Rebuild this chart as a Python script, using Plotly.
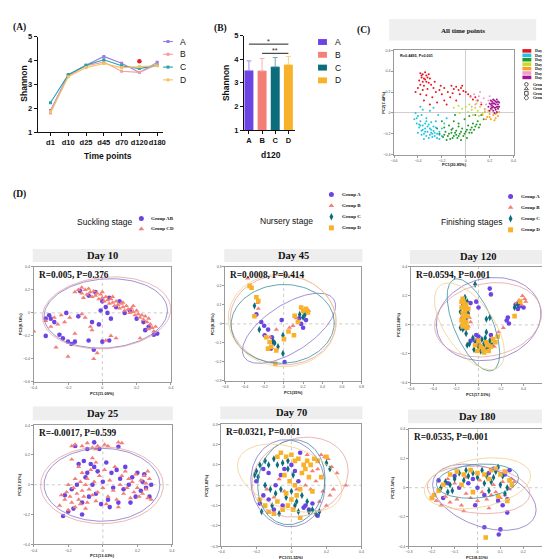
import numpy as np
import plotly.graph_objects as go

W, H = 550, 559

# ------------------------------------------------------------------ data
time_points = ["d1", "d10", "d25", "d45", "d70", "d120", "d180"]
shannon_A = [1.90, 3.40, 3.80, 4.17, 3.88, 3.50, 3.92]
shannon_B = [1.80, 3.35, 3.78, 3.93, 3.55, 3.50, 3.82]
shannon_C = [2.23, 3.40, 3.80, 4.03, 3.78, 3.66, 3.80]
shannon_D = [1.85, 3.32, 3.70, 3.87, 3.70, 3.74, 3.78]
sig_time = ["d120"]
sig_value = [3.97]

groups = ["A", "B", "C", "D"]
d120_mean = [3.52, 3.51, 3.68, 3.77]
d120_sd = [0.41, 0.52, 0.39, 0.35]
sig_from = ["A", "B"]
sig_to = ["D", "D"]
sig_height = [4.64, 4.25]
sig_label = ["*", "**"]

day_names = ["Day 1", "Day 10", "Day 25", "Day 45", "Day 70", "Day 120", "Day 180"]
all_day1 = [(-0.38,0.38),(-0.36,0.37),(-0.34,0.39),(-0.33,0.36),(-0.37,0.34),(-0.35,0.33),(-0.32,0.34),(-0.30,0.33),
            (-0.39,0.31),(-0.36,0.30),(-0.33,0.30),(-0.31,0.29),(-0.38,0.27),(-0.35,0.26),(-0.29,0.27),(-0.40,0.24),
            (-0.36,0.22),(-0.32,0.23),(-0.27,0.24),(-0.25,0.20),(-0.38,0.18),(-0.33,0.17),(-0.28,0.15),(-0.22,0.22),
            (-0.20,0.18),(-0.18,0.24),(-0.15,0.20),(-0.13,0.15),(-0.10,0.23),(-0.08,0.25),(-0.06,0.22),(-0.04,0.24),
            (-0.02,0.21),(0.00,0.20),(0.02,0.18),(0.04,0.16),(0.06,0.13),(-0.24,0.10),(-0.16,0.08),(-0.08,0.12),
            (-0.35,0.12),(-0.30,0.08),(-0.42,0.20),(-0.12,0.26),(-0.26,0.30),(0.10,0.12),(0.13,0.08),(-0.37,0.36),
            (-0.34,0.32),(-0.31,0.37),(-0.05,0.18),(-0.18,0.12),(0.08,0.15),(-0.21,0.26),(-0.11,0.19),(-0.03,0.26)]
all_day10 = [(-0.42,0.00),(-0.40,-0.03),(-0.43,-0.06),(-0.38,-0.08),(-0.41,-0.10),(-0.36,-0.12),(-0.39,-0.14),(-0.34,-0.15),
             (-0.37,-0.17),(-0.32,-0.18),(-0.35,-0.20),(-0.30,-0.21),(-0.28,-0.23),(-0.33,-0.22),(-0.26,-0.19),(-0.24,-0.24),
             (-0.29,-0.16),(-0.31,-0.11),(-0.27,-0.13),(-0.22,-0.18),(-0.20,-0.22),(-0.25,-0.08),(-0.33,-0.05),(-0.36,0.03),
             (-0.30,0.02),(-0.23,-0.02),(-0.18,-0.10),(-0.20,-0.15),(-0.38,0.06),(-0.27,0.05),(-0.40,-0.19),(-0.35,-0.25),
             (-0.22,-0.25),(-0.16,-0.05),(-0.34,-0.10),(-0.29,-0.19),(-0.37,-0.02),(-0.25,-0.14),(-0.31,-0.24),
             (-0.41,-0.05),(-0.39,-0.11),(-0.37,-0.21),(-0.34,-0.18),(-0.32,-0.13),(-0.30,-0.15),(-0.28,-0.20),
             (-0.26,-0.22),(-0.24,-0.20),(-0.22,-0.21),(-0.33,-0.08),(-0.36,-0.16),(-0.38,-0.12),(-0.29,-0.09),
             (-0.27,-0.17)]
all_day25 = [(-0.22,-0.20),(-0.19,-0.23),(-0.17,-0.18),(-0.15,-0.22),(-0.13,-0.25),(-0.12,-0.19),(-0.10,-0.22),(-0.08,-0.17),
             (-0.07,-0.24),(-0.05,-0.20),(-0.03,-0.15),(-0.02,-0.22),(0.00,-0.18),(0.02,-0.12),(0.04,-0.16),(0.06,-0.10),
             (0.08,-0.13),(0.10,-0.08),(0.12,-0.11),(0.15,-0.06),(-0.14,-0.12),(-0.10,-0.08),(-0.06,-0.10),(-0.01,-0.06),
             (0.03,-0.03),(-0.18,-0.14),(-0.24,-0.15),(-0.20,-0.08),(-0.09,-0.02),(0.08,-0.02),(0.13,-0.02),(-0.16,-0.26),
             (-0.04,-0.26),(0.01,-0.24),(-0.11,-0.15),(-0.06,-0.13),(0.05,-0.19),(-0.18,-0.21),(-0.14,-0.20),
             (-0.11,-0.24),(-0.09,-0.19),(-0.06,-0.22),(-0.04,-0.18),(-0.01,-0.20),(0.01,-0.16),(0.03,-0.19),
             (0.05,-0.14),(0.07,-0.16),(0.09,-0.11),(0.11,-0.14),(-0.12,-0.16),(-0.08,-0.21)]
all_day45 = [(-0.10,0.05),(-0.06,0.07),(-0.03,0.04),(0.00,0.06),(0.03,0.08),(0.05,0.03),(0.08,0.05),(0.10,0.02),
             (0.12,0.06),(0.14,0.00),(0.16,0.03),(0.06,-0.02),(0.02,0.01),(-0.05,0.00),(0.09,0.09),(0.11,-0.03)]
all_day70 = [(0.14,-0.02),(0.16,0.01),(0.18,-0.04),(0.20,-0.01),(0.21,-0.06),(0.23,-0.02),(0.25,-0.05),(0.26,0.00),
             (0.27,-0.03),(0.19,0.02),(0.22,0.03),(0.24,-0.07),(0.28,0.01),(0.17,-0.06),(0.20,-0.04),(0.25,-0.01)]
all_day120 = [(0.04,0.15),(0.07,0.18),(0.09,0.12),(0.11,0.16),(0.13,0.10),(0.15,0.14),(0.17,0.08),(0.19,0.12),
              (0.21,0.06),(0.12,0.20),(0.08,0.08),(0.16,0.04),(0.20,0.16),(0.23,0.10),(0.05,0.06)]
all_day180 = [(0.19,0.06),(0.20,0.09),(0.21,0.04),(0.22,0.11),(0.22,0.07),(0.23,0.02),(0.23,0.09),(0.24,0.05),
              (0.24,0.12),(0.25,0.08),(0.25,0.03),(0.26,0.06),(0.26,0.10),(0.27,0.04),(0.27,0.08),(0.28,0.06),
              (0.20,0.02),(0.21,0.12),(0.24,0.00),(0.26,0.01),(0.28,0.10),(0.22,0.05),(0.25,0.11),(0.23,0.13),
              (0.27,0.11),(0.21,0.08),(0.26,0.13),(0.23,0.06),(0.25,0.05),(0.24,0.09),(0.22,0.09),(0.27,0.06)]

# Day 10 (suckling)
d10_AB = [(-0.13,0.19),(-0.08,0.15),(-0.04,0.18),(0.00,0.10),(0.02,0.05),(0.04,0.13),(0.08,0.05),(0.10,0.10),(0.13,0.00),
          (0.16,0.02),(0.20,-0.05),(0.24,-0.08),(0.27,-0.12),(0.30,-0.19),(0.32,-0.18),(0.25,-0.15),(-0.01,0.02),(0.03,0.00),
          (0.05,-0.05),(-0.33,-0.05),(-0.31,-0.02),(-0.33,-0.20),(-0.30,-0.05),(-0.28,-0.08),(-0.25,-0.19),(-0.23,-0.22),
          (-0.20,-0.25),(-0.18,-0.27),(-0.16,-0.25),(-0.21,0.00),(-0.14,-0.03),(-0.06,-0.08),(-0.02,-0.10),(-0.08,-0.24),
          (0.00,-0.25),(0.04,-0.24),(-0.05,-0.32)]
d10_CD = [(-0.14,0.20),(-0.12,0.22),(-0.12,0.17),(-0.10,0.20),(-0.09,0.16),(-0.08,0.21),(-0.07,0.18),(-0.06,0.14),(-0.05,0.19),
          (-0.04,0.15),(-0.03,0.17),(-0.02,0.12),(-0.01,0.16),(0.00,0.13),(0.01,0.10),(0.02,0.14),(0.03,0.11),(0.04,0.08),
          (0.05,0.12),(0.06,0.09),(0.07,0.06),(0.08,0.10),(0.09,0.07),(0.10,0.04),(0.11,0.08),(0.12,0.05),(0.13,0.02),
          (0.14,0.06),(0.15,0.03),(0.16,0.00),(0.17,0.04),(0.18,0.01),(0.19,-0.02),(0.20,0.02),(0.21,-0.01),(0.22,-0.04),
          (0.23,-0.02),(0.24,-0.06),(0.25,-0.03),(0.26,-0.08),(0.27,-0.05),(0.28,-0.10),(0.29,-0.13),(0.30,-0.16),
          (0.31,-0.12),(0.27,-0.14),(-0.16,0.18),(-0.11,0.13),(0.00,0.18),(0.06,0.14),(0.12,0.09),(0.18,0.06),
          (-0.40,-0.16),(-0.33,-0.07),(-0.30,-0.12),(-0.28,-0.04),(-0.26,-0.10),(-0.24,-0.02),(-0.22,-0.08),(-0.27,-0.30),
          (-0.16,-0.18),(-0.12,-0.01),(-0.10,-0.04),(-0.07,-0.12),(-0.06,-0.15),(-0.03,-0.35),(-0.05,-0.40),(0.02,-0.24),
          (0.05,-0.20),(0.08,-0.22),(-0.19,-0.04),(0.22,-0.22),(-0.20,-0.38)]

# Day 25 (suckling)
d25_AB = [(-0.16,0.26),(-0.09,0.24),(-0.05,0.285),(-0.02,0.24),(0.09,0.255),(-0.23,-0.21),(-0.20,-0.18),(-0.22,-0.07),
          (-0.17,-0.16),(-0.15,0.00),(-0.14,0.14),(-0.12,-0.12),(-0.11,0.16),(-0.10,0.05),(-0.08,-0.08),(-0.07,0.14),
          (-0.06,0.00),(-0.05,0.12),(-0.04,-0.06),(-0.03,0.09),(-0.01,-0.13),(0.00,0.02),(0.02,0.15),(0.03,-0.10),
          (0.05,0.08),(0.06,-0.02),(0.08,0.10),(0.09,-0.12),(0.10,0.04),(0.12,-0.03),(0.13,0.12),(0.15,0.00),
          (0.17,0.05),(0.19,-0.08),(0.20,0.08),(0.22,-0.04),(0.23,0.02),(0.25,-0.02),(0.27,-0.08),(0.28,0.00),
          (0.24,0.07),(0.16,-0.12),(-0.18,-0.03),(-0.09,0.08),(0.04,-0.15),(-0.12,-0.20)]
d25_CD = [(-0.18,0.26),(-0.16,0.27),(-0.12,0.26),(-0.09,0.28),(-0.06,0.25),(-0.04,0.24),(-0.03,0.26),(0.01,0.27),
          (0.03,0.26),(0.09,0.285),(0.11,0.28),(-0.25,-0.14),(-0.22,-0.10),(-0.21,-0.05),(-0.20,0.00),(-0.19,-0.08),
          (-0.18,-0.12),(-0.17,-0.02),(-0.16,0.04),(-0.15,-0.06),(-0.14,-0.10),(-0.13,0.02),(-0.12,-0.04),(-0.12,0.08),
          (-0.11,-0.08),(-0.10,0.00),(-0.09,-0.12),(-0.09,0.04),(-0.08,-0.03),(-0.07,0.10),(-0.06,-0.07),(-0.05,0.02),
          (-0.04,0.15),(-0.03,-0.05),(-0.02,0.06),(0.00,-0.02),(0.01,0.10),(0.03,-0.08),(0.04,0.03),(0.06,-0.04),
          (0.07,0.12),(0.08,-0.10),(0.10,0.00),(0.11,0.06),(0.12,-0.06),(0.13,0.09),(0.14,-0.02),(0.15,0.04),
          (0.16,-0.09),(0.17,0.02),(0.18,-0.05),(0.19,0.07),(0.20,-0.02),(0.21,-0.08),(0.22,0.03),(0.23,-0.06),
          (0.24,0.06),(0.25,-0.03),(0.25,0.01),(0.26,-0.09),(0.27,0.04),(0.28,-0.10),(0.26,0.09),(-0.18,0.17),
          (-0.14,0.12),(-0.06,0.18),(-0.24,-0.07),(-0.16,-0.15),(-0.10,-0.16),(-0.04,-0.11),(0.02,-0.13),(0.09,-0.15),
          (-0.20,-0.17),(-0.13,-0.13)]

# Day 45 (nursery)
d45_A = [(-0.28,0.05),(-0.23,0.01),(-0.20,-0.01),(-0.16,-0.03),(-0.195,-0.06),(-0.12,-0.07),(-0.13,-0.13),(-0.02,0.02),
         (0.01,-0.20),(0.18,0.00),(0.23,0.02),(0.20,-0.02),(0.16,0.03),(-0.10,-0.10)]
d45_B = [(-0.37,0.24),(-0.26,0.08),(-0.14,-0.07),(-0.075,-0.03),(0.06,-0.02),(0.216,0.06),(0.13,0.03),(0.096,-0.01),
         (0.257,0.07),(-0.27,0.11)]
d45_C = [(-0.30,0.095),(-0.25,-0.03),(-0.093,-0.10),(-0.058,-0.12),(-0.007,-0.155),(-0.007,-0.06),(0.165,0.05),
         (0.20,0.035),(0.22,0.05),(-0.11,-0.09)]
d45_D = [(-0.35,0.20),(-0.33,0.19),(-0.28,0.14),(-0.26,0.12),(-0.30,0.04),(-0.18,-0.07),(-0.144,-0.095),(-0.127,-0.12),
         (-0.075,-0.14),(-0.16,-0.13),(-0.086,-0.21),(0.003,-0.08),(0.05,-0.04),(0.106,-0.06),(0.18,0.086),(0.20,0.07),
         (0.25,0.06),(0.113,0.043),(0.147,0.01),(0.23,0.08)]

# Day 120 (finishing)
d120_A = [(-0.11,0.09),(-0.07,0.15),(0.00,-0.08),(-0.03,-0.11),(0.11,-0.07),(0.37,0.13),(0.35,0.11),(0.40,0.12),
          (0.26,0.05),(0.25,0.03),(0.27,0.01),(0.33,0.14),(-0.02,0.16),(0.00,0.12),(0.10,0.25),(0.11,0.21),(-0.02,-0.07),
          (-0.07,-0.11)]
d120_B = [(-0.13,0.17),(-0.10,0.12),(-0.08,0.05),(-0.12,-0.03),(-0.07,0.02),(-0.15,0.05),(-0.09,-0.01),(-0.02,-0.10),
          (0.01,-0.13),(0.04,-0.14),(0.07,-0.17),(0.10,-0.13),(0.12,-0.09),(0.06,-0.16),(0.14,-0.15),(0.36,0.17),
          (0.39,0.20),(0.41,0.18),(0.42,0.16),(0.34,0.15),(0.38,0.14),(0.22,-0.02),(0.18,-0.05),(0.11,-0.10)]
d120_C = [(-0.12,0.19),(-0.10,0.16),(-0.14,0.14),(-0.09,0.08),(-0.16,0.09),(-0.11,0.04),(-0.14,-0.03),(-0.16,-0.02),
          (-0.05,-0.09),(-0.02,-0.12),(0.00,-0.15),(0.03,-0.10),(0.05,-0.13),(0.08,-0.16),(0.10,-0.11),(0.12,-0.14),
          (-0.04,-0.17),(0.02,-0.18),(0.06,-0.09),(-0.08,-0.13),(-0.10,-0.14),(0.35,0.14),(0.32,0.12),(-0.03,0.28),
          (0.07,0.04),(0.10,0.05),(-0.11,-0.06),(0.07,-0.05)]
d120_D = [(-0.14,0.18),(-0.13,0.15),(-0.15,0.12),(-0.12,0.10),(-0.14,0.08),(-0.13,0.05),(-0.15,0.03),(-0.12,0.01),
          (-0.14,-0.01),(-0.11,0.14),(-0.10,0.06),(-0.13,0.12),(-0.11,0.02),(-0.15,0.16),(-0.12,0.07),(-0.09,0.11),
          (-0.14,0.00),(-0.10,-0.02),(-0.03,-0.14),(0.00,-0.11),(0.02,-0.15),(0.04,-0.17),(0.07,-0.12),(0.09,-0.18),
          (0.11,-0.15),(0.13,-0.10),(0.05,-0.19),(-0.01,-0.18),(0.08,-0.14),(0.15,-0.12),(0.17,-0.08),(0.32,0.06),
          (0.37,0.16)]

# Day 70 (nursery)
d70_A = [(-0.20,0.02),(-0.16,0.08),(-0.13,0.06),(-0.09,0.00),(-0.06,0.05),(-0.04,0.08),(0.00,0.10),(0.02,0.07),
         (0.05,0.16),(0.08,-0.10),(0.10,-0.12),(0.12,-0.09),(0.07,-0.11),(-0.13,-0.07),(-0.10,-0.12),(-0.16,-0.05),
         (0.15,-0.15),(-0.05,-0.10),(0.04,0.02),(-0.18,-0.09)]
d70_B = [(0.17,0.15),(0.19,0.14),(0.21,0.13),(0.23,0.09),(0.26,0.06),(0.31,0.00),(0.15,0.08),(0.14,0.02),(0.18,-0.03),
         (0.22,-0.05),(0.20,-0.10),(0.11,-0.02),(0.08,0.00),(-0.14,-0.02),(-0.10,-0.06),(-0.04,-0.03),(0.03,-0.02),
         (0.16,-0.08),(0.12,0.07),(-0.07,0.03),(0.24,-0.02),(0.09,0.15)]
d70_C = [(-0.20,0.07),(-0.18,0.10),(-0.15,0.12),(-0.13,0.10),(-0.10,0.13),(-0.08,0.10),(-0.05,0.11),(-0.02,0.08),
         (-0.19,0.04),(-0.15,0.00),(-0.12,-0.02),(-0.09,-0.04),(-0.06,-0.02),(-0.03,-0.06),(0.00,-0.03),(0.03,-0.08),
         (0.06,-0.05),(0.09,-0.08),(0.12,-0.12),(0.14,-0.14),(0.16,-0.13),(-0.11,-0.10),(-0.07,-0.14),(0.02,-0.10),
         (0.04,-0.13),(0.20,0.11),(0.22,0.08),(-0.02,0.12),(0.01,0.05),(-0.17,-0.13),(0.10,-0.13),(-0.21,0.05)]
d70_D = [(-0.06,0.16),(-0.03,0.14),(0.00,0.15),(0.02,0.12),(0.04,0.13),(0.07,0.10),(0.09,0.12),(0.11,0.10),(0.13,0.13),
         (-0.04,0.05),(-0.01,0.02),(0.02,0.00),(0.05,-0.02),(-0.03,-0.04),(0.00,-0.07),(0.03,-0.05),(-0.08,-0.08),
         (-0.05,-0.12),(-0.02,-0.10),(0.01,-0.12),(-0.15,-0.10),(-0.13,-0.13),(-0.10,-0.14),(0.06,0.06),(0.10,0.04),
         (0.12,-0.03),(0.17,0.04),(0.20,0.14),(-0.08,0.14),(0.05,-0.16),(0.08,0.08),(-0.18,-0.07),(0.15,0.12)]

# Day 180 (finishing)
d180_A = [(-0.17,0.05),(-0.13,0.03),(-0.10,0.08),(-0.08,0.00),(-0.04,0.03),(-0.02,0.06),(0.00,0.00),(0.03,-0.05),
          (0.05,0.10),(0.09,-0.09),(0.11,-0.12),(0.13,-0.08),(0.14,0.12),(0.13,-0.17),(-0.15,-0.07),(-0.01,-0.12),
          (0.07,0.13),(0.03,-0.27),(0.10,-0.285),(0.093,-0.32),(0.12,0.09)]
d180_B = [(-0.18,-0.09),(-0.16,-0.12),(-0.14,-0.06),(-0.12,-0.10),(-0.09,-0.08),(-0.07,-0.12),(-0.05,-0.04),(-0.03,-0.07),
          (0.00,-0.09),(0.02,-0.03),(0.04,-0.08),(0.06,-0.05),(0.08,-0.03),(0.10,-0.07),(0.12,-0.05),(0.14,-0.01),
          (0.16,0.04),(0.15,0.06),(-0.10,0.03),(-0.05,0.07),(0.01,0.05),(0.07,0.02),(-0.13,0.06),(0.11,0.04),
          (0.05,-0.14),(-0.06,-0.16)]
d180_C = [(-0.16,0.00),(-0.14,0.04),(-0.12,0.02),(-0.10,0.06),(-0.08,0.10),(-0.06,0.05),(-0.04,0.08),(-0.02,0.10),
          (0.00,0.07),(0.02,0.12),(0.04,0.08),(0.06,0.04),(0.08,0.11),(0.10,0.02),(0.12,-0.04),(-0.11,-0.02),
          (0.03,0.03),(-0.05,0.12),(0.09,0.14),(0.07,0.07),(0.11,0.08),(-0.13,-0.03),(0.13,0.00),(0.05,-0.02)]
d180_D = [(-0.20,-0.07),(-0.19,-0.05),(-0.15,0.02),(-0.12,0.09),(-0.09,0.11),(-0.06,0.09),(-0.03,0.12),(0.00,0.10),
          (0.03,0.09),(0.06,0.12),(0.08,0.13),(0.10,0.09),(0.12,0.11),(0.14,0.05),(0.15,0.02),(0.05,0.06),(-0.07,0.02),
          (0.09,-0.06),(-0.02,-0.03),(0.13,-0.09),(0.036,-0.34),(-0.17,-0.02)]

# confidence ellipses: (cx, cy, half-width x, half-height y, rotation deg)
ell_d10 = {"A": (0.02, -0.005, 0.36, 0.30, 4), "B": (0.025, 0.0, 0.375, 0.31, 5)}
ell_d25 = {"A": (-0.005, 0.0, 0.335, 0.245, 0), "B": (-0.005, -0.003, 0.355, 0.258, 0)}
ell_d45 = {"A": (0.055, -0.023, 0.548, 0.124, 33), "B": (-0.005, 0.02, 0.545, 0.235, -5),
           "C": (-0.01, 0.0, 0.53, 0.207, 3), "D": (-0.015, 0.018, 0.555, 0.242, -8)}
ell_d120 = {"A": (0.09, 0.04, 0.47, 0.28, 15), "B": (0.085, 0.035, 0.48, 0.25, 12),
            "C": (-0.045, 0.0, 0.171, 0.34, 23), "D": (-0.08, -0.01, 0.214, 0.346, 35)}
ell_d70 = {"A": (-0.02, 0.01, 0.21, 0.215, 10), "B": (0.05, 0.04, 0.28, 0.19, 20),
           "C": (0.0, 0.015, 0.19, 0.21, -10), "D": (-0.01, 0.035, 0.31, 0.15, -20)}
ell_d180 = {"A": (0.03, -0.065, 0.236, 0.20, -20), "B": (0.005, -0.015, 0.225, 0.16, -5),
            "C": (0.0, 0.045, 0.18, 0.115, 5), "D": (0.0, 0.03, 0.235, 0.165, 10)}

stat_text = {"d10": "R=0.005, P=0.376", "d25": "R=-0.0017, P=0.599", "d45": "R=0.0008, P=0.414",
             "d70": "R=0.0321, P=0.001", "d120": "R=0.0594, P=0.001", "d180": "R=0.0535, P=0.001"}
all_stat = "R=0.4495, P=0.001"

# ------------------------------------------------------------------ style
SANS = "Liberation Sans"
SERIF = "Liberation Serif"
GC = {"A": "#6C44E4", "B": "#F47F76", "C": "#0B6C7C", "D": "#F8B22A"}
LINEC = {"A": "#9A7BE6", "B": "#F49E9E", "C": "#25A3A6", "D": "#F7C061"}
ERRC = {"A": "#A78BF2", "B": "#F8B3AB", "C": "#6FA6B6", "D": "#FAD27E"}
ELLC = {"A": "#8576C6", "B": "#E9A2A2", "C": "#3C8E9C", "D": "#F1CF8E"}
SYM = {"A": "circle", "B": "triangle-up", "C": "diamond-tall", "D": "square"}
DAYC = ["#E5141E", "#22C2E2", "#1E9A2A", "#C8DA2E", "#F7A021", "#F39BC9", "#A0168E"]
GSYM_OPEN = ["circle-open", "triangle-up-open", "square-open", "diamond-open"]

fig = go.Figure()
layout = dict(width=W, height=H, margin=dict(l=0, r=0, t=0, b=0), paper_bgcolor="white",
              plot_bgcolor="rgba(0,0,0,0)", showlegend=False, barmode="overlay")
annotations, shapes = [], []


def ax_names(i):
    return ("xaxis", "yaxis", "x", "y") if i == 1 else (f"xaxis{i}", f"yaxis{i}", f"x{i}", f"y{i}")


def set_axes(i, box, xa, ya):
    xn, yn, xr, yr = ax_names(i)
    x0, x1, y0, y1 = box
    xa.update(domain=[x0 / W, x1 / W], anchor=yr)
    ya.update(domain=[1 - y1 / H, 1 - y0 / H], anchor=xr)
    layout[xn] = xa
    layout[yn] = ya


def text(x, y, s, size, family=SANS, bold=False, color="#111", xanchor="center", angle=0):
    annotations.append(dict(x=x / W, y=1 - y / H, xref="paper", yref="paper", text=s, showarrow=False,
                            xanchor=xanchor, yanchor="middle", textangle=angle,
                            font=dict(family=family, size=size, color=color, weight="bold" if bold else "normal")))


def ellipse(params, kx, ky, n=120):
    cx, cy, ax, by, deg = params
    t = np.linspace(0, 2 * np.pi, n)
    u, w = ax * kx * np.cos(t), by * ky * np.sin(t)
    ph = np.radians(deg)
    return cx + (u * np.cos(ph) - w * np.sin(ph)) / kx, cy + (u * np.sin(ph) + w * np.cos(ph)) / ky


# ------------------------------------------------------------------ panel A
boxA = (26, 153, 25, 122)
for g, vals in zip(groups, [shannon_A, shannon_B, shannon_C, shannon_D]):
    fig.add_trace(go.Scatter(x=time_points, y=vals, mode="lines+markers", xaxis="x", yaxis="y",
                             line=dict(color=LINEC[g], width=1.1),
                             marker=dict(color=LINEC[g], size=3, symbol="square")))
fig.add_trace(go.Scatter(x=sig_time, y=sig_value, mode="markers", xaxis="x", yaxis="y",
                         marker=dict(color="#E8202A", size=4.5, symbol="circle")))
axis_common = dict(showline=True, linecolor="#111", linewidth=1, ticks="outside", ticklen=3, tickwidth=1,
                   tickcolor="#111", showgrid=False, zeroline=False, tickangle=0,
                   tickfont=dict(family=SANS, size=7.5, color="#111", weight="bold"))
set_axes(1, boxA, dict(axis_common, type="category", range=[-0.72, 6.33]),
         dict(axis_common, range=[1, 5], tickvals=[1, 2, 3, 4, 5]))
text(97, 146, "Time points", 8.5, bold=True)
text(12, 73, "Shannon", 8.5, bold=True, angle=-90)
text(8, 16, "(A)", 9.5, family=SERIF, bold=True)

# ------------------------------------------------------------------ panel B
boxB = (235, 287, 24, 120)
for g, m, s in zip(groups, d120_mean, d120_sd):
    fig.add_trace(go.Bar(x=[g], y=[m], width=0.68, marker=dict(color=GC[g], line=dict(width=0)),
                         error_y=dict(type="data", array=[s], arrayminus=[0], symmetric=False,
                                      color=ERRC[g], thickness=1, width=2.5),
                         xaxis="x2", yaxis="y2"))
for a, b, h, lab in zip(sig_from, sig_to, sig_height, sig_label):
    fig.add_trace(go.Scatter(x=[a, b], y=[h, h], mode="lines", line=dict(color="#222", width=1),
                             xaxis="x2", yaxis="y2", cliponaxis=False))
set_axes(2, boxB, dict(axis_common, type="category", range=[-0.375, 3.53], categoryorder="array",
                       categoryarray=groups),
         dict(axis_common, range=[1, 5], tickvals=[1, 2, 3, 4, 5]))
for a, b, h, lab in zip(sig_from, sig_to, sig_height, sig_label):
    mid = (groups.index(a) + groups.index(b)) / 2
    annotations.append(dict(x=mid, y=h, xref="x2", yref="y2", text=lab, showarrow=False, yanchor="bottom",
                            yshift=-3, font=dict(family=SANS, size=7, color="#222")))
text(262, 145, "d120", 8.5, bold=True)
text(217, 72, "Shannon", 8.5, bold=True, angle=-90)
text(211, 17, "(B)", 9.5, family=SERIF, bold=True)

# ------------------------------------------------------------------ panel C
boxC = (387, 508, 39, 145)
for name, pts, col in zip(day_names, [all_day1, all_day10, all_day25, all_day45, all_day70, all_day120, all_day180], DAYC):
    fig.add_trace(go.Scatter(x=[p[0] for p in pts], y=[p[1] for p in pts], mode="markers", xaxis="x3", yaxis="y3",
                             marker=dict(color=col, size=2.0, line=dict(width=0))))
frame = dict(showline=True, mirror=True, linecolor="#9a9a9a", linewidth=0.8, ticks="outside", ticklen=2,
             tickwidth=0.6, tickcolor="#9a9a9a", showgrid=False, tickangle=0,
             tickfont=dict(family=SANS, size=3.6, color="#555"))
set_axes(3, boxC, dict(frame, range=[-0.6, 0.4], tickvals=[-0.6, -0.4, -0.2, 0, 0.2, 0.4], zeroline=True,
                       zerolinecolor="#cfcfcf", zerolinewidth=1),
         dict(frame, range=[-0.4, 0.6], tickvals=[-0.4, -0.2, 0, 0.2, 0.4, 0.6], zeroline=True,
              zerolinecolor="#cfcfcf", zerolinewidth=1))
shapes.append(dict(type="rect", xref="paper", yref="paper", x0=382 / W, x1=531 / W, y0=1 - 29 / H, y1=1 - 7 / H,
                   fillcolor="#EFEFEF", line=dict(width=0), layer="below"))
text(457, 19, "All time points", 7, family=SERIF, bold=True)
text(356, 19, "(C)", 9.5, family=SERIF, bold=True)
text(391, 45, all_stat, 3.8, family=SANS, bold=True, xanchor="left")
text(448, 155, "PC1(20.85%)", 4.0, bold=True)
text(376, 92, "PC2(7.48%)", 4.0, bold=True, angle=-90)

# ------------------------------------------------------------------ panel D
panels = [
    dict(i=4, key="d10", box=(22, 161, 259, 376), xr=[-0.4, 0.4], yr=[-0.6, 0.4],
         xt=[-0.4, -0.2, 0, 0.2, 0.4], yt=[-0.6, -0.4, -0.2, 0, 0.2, 0.4], head="Day 10", hy=(241, 254),
         series={"A": d10_AB, "B": d10_CD}, ell=ell_d10, xl=("PC1(11.09%)", 388), yl=("PC2(8.74%)", 9)),
    dict(i=5, key="d45", box=(216, 354, 259, 375), xr=[-0.6, 0.8], yr=[-0.3, 0.3],
         xt=[-0.6, -0.4, -0.2, 0, 0.2, 0.4, 0.6, 0.8], yt=[-0.3, -0.2, -0.1, 0, 0.1, 0.2, 0.3], head="Day 45",
         hy=(241, 254), series={"A": d45_A, "B": d45_B, "C": d45_C, "D": d45_D}, ell=ell_d45,
         xl=("PC1(35%)", 387), yl=("PC2(8.18%)", 203)),
    dict(i=6, key="d120", box=(404, 541, 259, 377), xr=[-0.6, 0.6], yr=[-0.4, 0.4],
         xt=[-0.6, -0.4, -0.2, 0, 0.2, 0.4, 0.6], yt=[-0.4, -0.2, 0, 0.2, 0.4], head="Day 120", hy=(242, 256),
         series={"A": d120_A, "B": d120_B, "C": d120_C, "D": d120_D}, ell=ell_d120,
         xl=("PC1(17.51%)", 389), yl=("PC2(11.88%)", 392)),
    dict(i=7, key="d25", box=(22, 162, 420, 541), xr=[-0.4, 0.4], yr=[-0.4, 0.4],
         xt=[-0.4, -0.2, 0, 0.2, 0.4], yt=[-0.4, -0.2, 0, 0.2, 0.4], head="Day 25", hy=(401, 415),
         series={"A": d25_AB, "B": d25_CD}, ell=ell_d25, xl=("PC1(13.03%)", 552), yl=("PC2(7.01%)", 8)),
    dict(i=8, key="d70", box=(212, 354, 419, 543), xr=[-0.4, 0.4], yr=[-0.3, 0.3],
         xt=[-0.4, -0.2, 0, 0.2, 0.4], yt=[-0.3, -0.2, -0.1, 0, 0.1, 0.2, 0.3], head="Day 70", hy=(401, 414),
         series={"A": d70_A, "B": d70_B, "C": d70_C, "D": d70_D}, ell=ell_d70,
         xl=("PC1(11.55%)", 554), yl=("PC2(7.82%)", 197)),
    dict(i=9, key="d180", box=(402, 541, 424, 543), xr=[-0.3, 0.3], yr=[-0.4, 0.4],
         xt=[-0.3, -0.2, -0.1, 0, 0.1, 0.2, 0.3], yt=[-0.4, -0.2, 0, 0.2, 0.4], head="Day 180", hy=(404, 418),
         series={"A": d180_A, "B": d180_B, "C": d180_C, "D": d180_D}, ell=ell_d180,
         xl=("PC1(8.51%)", 554), yl=("PC2(7.54%)", 386)),
]

for p in panels:
    i = p["i"]
    x0, x1, y0, y1 = p["box"]
    kx = (x1 - x0) / (p["xr"][1] - p["xr"][0])
    ky = (y1 - y0) / (p["yr"][1] - p["yr"][0])
    xa, ya = f"x{i}", f"y{i}"
    shapes.append(dict(type="line", xref=xa, yref=f"{ya} domain", x0=0, x1=0, y0=0, y1=1,
                       line=dict(color="#b5b5b5", width=0.7, dash="dot"), layer="below"))
    shapes.append(dict(type="line", xref=f"{xa} domain", yref=ya, x0=0, x1=1, y0=0, y1=0,
                       line=dict(color="#b5b5b5", width=0.7, dash="dot"), layer="below"))
    for g, pts in p["series"].items():
        fig.add_trace(go.Scatter(x=[q[0] for q in pts], y=[q[1] for q in pts], mode="markers", xaxis=xa, yaxis=ya,
                                 marker=dict(color=GC[g], size=4.6 if g != "C" else 5.2, symbol=SYM[g],
                                             line=dict(width=0))))
    for g, par in p["ell"].items():
        ex, ey = ellipse(par, kx, ky)
        fig.add_trace(go.Scatter(x=ex, y=ey, mode="lines", xaxis=xa, yaxis=ya,
                                 line=dict(color=ELLC[g], width=0.8)))
    set_axes(i, p["box"], dict(frame, range=p["xr"], tickvals=p["xt"], zeroline=False),
             dict(frame, range=p["yr"], tickvals=p["yt"], zeroline=False))
    hx0, hx1 = x0 - 1, x1 + 1
    shapes.append(dict(type="rect", xref="paper", yref="paper", x0=hx0 / W, x1=hx1 / W,
                       y0=1 - p["hy"][1] / H, y1=1 - p["hy"][0] / H, fillcolor="#EEEEEE",
                       line=dict(width=0), layer="below"))
    text((hx0 + hx1) / 2, (p["hy"][0] + p["hy"][1]) / 2, p["head"], 10.5, family=SERIF, bold=True)
    text(x0 + 3, y0 + 8, stat_text[p["key"]], 9.3, family=SERIF, bold=True, xanchor="left")
    text((x0 + x1) / 2, p["xl"][1], p["xl"][0], 4.0, bold=True)
    text(p["yl"][1], (y0 + y1) / 2, p["yl"][0], 4.0, bold=True, angle=-90)

text(8, 185, "(D)", 9.5, family=SERIF, bold=True)
text(94, 213, "Suckling stage", 8.5)
text(278, 212, "Nursery stage", 8.5)
text(465, 213, "Finishing stages", 8.5)

# ------------------------------------------------------------------ legends (overlay axis in pixel units)
for k, g in enumerate(groups):
    yy = 30 + 13 * k
    fig.add_trace(go.Scatter(x=[153, 163], y=[yy, yy], mode="lines", line=dict(color=LINEC[g], width=1.1),
                             xaxis="x10", yaxis="y10"))
    fig.add_trace(go.Scatter(x=[158], y=[yy], mode="markers", marker=dict(color=LINEC[g], size=3, symbol="square"),
                             xaxis="x10", yaxis="y10"))
    text(168, yy, g, 8.5, xanchor="left")
for k, g in enumerate(groups):
    yy = 30.5 + 13 * k
    shapes.append(dict(type="rect", xref="paper", yref="paper", x0=310 / W, x1=319 / W,
                       y0=1 - (yy + 3) / H, y1=1 - (yy - 3) / H, fillcolor=GC[g], line=dict(width=0)))
    text(325, yy, g, 8.5, xanchor="left")
for k, (name, col) in enumerate(zip(day_names, DAYC)):
    yy = 39.5 + 4.5 * k
    shapes.append(dict(type="rect", xref="paper", yref="paper", x0=517 / W, x1=526 / W,
                       y0=1 - (yy + 1.8) / H, y1=1 - (yy - 1.8) / H, fillcolor=col, line=dict(width=0)))
    text(528, yy, name.replace(" ", "&nbsp;"), 4.0, family=SERIF, bold=True, xanchor="left")
for k, (g, s) in enumerate(zip(groups, GSYM_OPEN)):
    yy = 73.5 + 4.6 * k
    fig.add_trace(go.Scatter(x=[521], y=[yy], mode="markers", marker=dict(color="#333", size=3.6, symbol=s,
                                                                          line=dict(width=0.8)),
                             xaxis="x10", yaxis="y10"))
    text(526, yy, "Group&nbsp;" + g, 4.0, family=SERIF, bold=True, xanchor="left")
for k, (g, lab) in enumerate(zip(["A", "B"], ["Group AB", "Group CD"])):
    yy = 210 + 10.5 * k
    fig.add_trace(go.Scatter(x=[131], y=[yy], mode="markers", marker=dict(color=GC[g], size=5, symbol=SYM[g]),
                             xaxis="x10", yaxis="y10"))
    text(139, yy, lab, 5, family=SERIF, bold=True, xanchor="left")
for (lx, ly0) in [(323.5, 185.5), (505, 187.5)]:
    for k, g in enumerate(groups):
        yy = ly0 + 11.3 * k
        fig.add_trace(go.Scatter(x=[lx], y=[yy], mode="markers",
                                 marker=dict(color=GC[g], size=5 if g != "C" else 5.5, symbol=SYM[g]),
                                 xaxis="x10", yaxis="y10"))
        text(lx + 9, yy, "Group " + g, 5, family=SERIF, bold=True, xanchor="left")

layout["xaxis10"] = dict(domain=[0, 1], range=[0, W], visible=False, anchor="y10", fixedrange=True)
layout["yaxis10"] = dict(domain=[0, 1], range=[H, 0], visible=False, anchor="x10", fixedrange=True)

layout["annotations"] = annotations
layout["shapes"] = shapes
fig.update_layout(**layout)
fig.write_html("out.html")
